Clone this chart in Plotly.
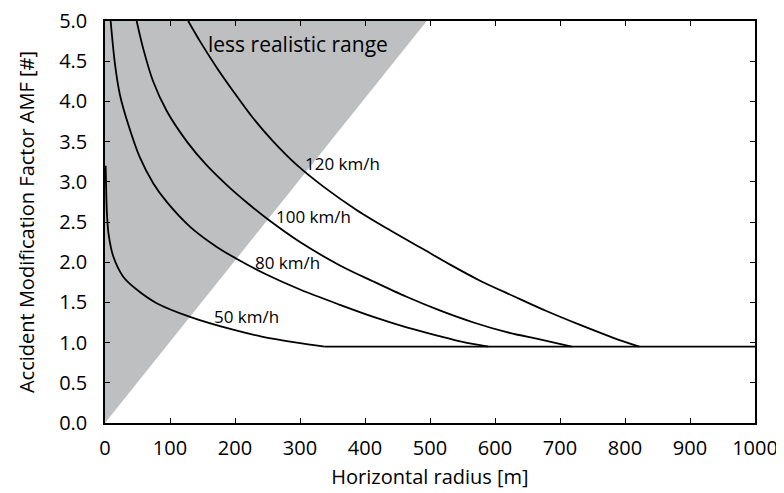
import plotly.graph_objects as go

# ---- data ----
radius_50 = [1.0, 1.8, 3.0, 5.5, 12.8, 28, 48.7, 79.5, 130.8, 197, 241, 295, 338]
amf_50 = [3.2, 2.9, 2.6, 2.35, 2.07, 1.82, 1.66, 1.49, 1.32, 1.16, 1.075, 1.00, 0.95]

radius_80 = [8.7, 15.4, 23, 35.9, 53.8, 74.4, 95, 131, 172, 203, 250, 300, 361.5, 413, 464, 515, 550, 590]
amf_80 = [5.0, 4.46, 4.08, 3.71, 3.30, 2.98, 2.75, 2.44, 2.19, 2.04, 1.84, 1.66, 1.47, 1.32, 1.19, 1.08, 1.01, 0.95]

radius_100 = [48.7, 59, 74, 95, 126, 156, 190, 220, 251, 300, 361.5, 413, 464, 515, 567, 618, 669, 718]
amf_100 = [5.0, 4.65, 4.25, 3.88, 3.50, 3.21, 2.94, 2.73, 2.53, 2.25, 1.96, 1.76, 1.57, 1.40, 1.25, 1.13, 1.04, 0.95]

radius_120 = [128, 146, 172, 197, 228, 259, 295, 336, 387, 438, 490, 531, 577, 628, 680, 731, 782, 822]
amf_120 = [5.0, 4.75, 4.42, 4.13, 3.79, 3.50, 3.21, 2.94, 2.65, 2.40, 2.16, 1.97, 1.77, 1.58, 1.39, 1.22, 1.06, 0.95]

floor_x = [338, 1000]
floor_y = [0.95, 0.95]

region_x = [0, 495, 0, 0]
region_y = [0, 5, 5, 0]

speed_labels = ["50 km/h", "80 km/h", "100 km/h", "120 km/h"]
label_x = [218, 280, 320, 365]
label_y = [1.33, 2.0, 2.57, 3.23]
region_label = "less realistic range"
region_label_x = 297
region_label_y = 4.71

x_ticks = list(range(0, 1001, 100))
y_ticks = [0, 0.5, 1.0, 1.5, 2.0, 2.5, 3.0, 3.5, 4.0, 4.5, 5.0]

FONT = "Open Sans"

fig = go.Figure()
fig.add_trace(go.Scatter(x=region_x, y=region_y, fill="toself", mode="none",
                         fillcolor="rgb(190,191,193)", hoverinfo="skip", showlegend=False))
for xs, ys in [(radius_50, amf_50), (radius_80, amf_80), (radius_100, amf_100),
               (radius_120, amf_120), (floor_x, floor_y)]:
    fig.add_trace(go.Scatter(x=xs, y=ys, mode="lines",
                             line=dict(color="black", width=1.8, shape="spline", smoothing=0.9),
                             showlegend=False))

for t, lx, ly in zip(speed_labels, label_x, label_y):
    fig.add_annotation(x=lx, y=ly, text=t, showarrow=False,
                       font=dict(family=FONT, size=17, color="black"))
fig.add_annotation(x=region_label_x, y=region_label_y, text=region_label, showarrow=False,
                   font=dict(family=FONT, size=21, color="black"))

axis_common = dict(showline=True, mirror="ticks", linecolor="black", linewidth=1.5,
                   ticks="inside", ticklen=5, tickcolor="black", tickwidth=1,
                   showgrid=False, zeroline=False, automargin=False,
                   ticklabeloverflow="allow",
                   tickfont=dict(family=FONT, size=20, color="black"))

fig.update_xaxes(range=[0, 1000], tickvals=x_ticks,
                 title=dict(text="Horizontal radius [m]", font=dict(family=FONT, size=20, color="black"), standoff=10),
                 ticklabelstandoff=6, **axis_common)
fig.update_yaxes(range=[0, 5], tickvals=y_ticks, tickformat=".1f",
                 title=dict(text="Accident Modification Factor AMF [#]", font=dict(family=FONT, size=20, color="black"), standoff=19),
                 ticklabelstandoff=12, **axis_common)

# page body has an 8px margin, so the figure is sized/offset to land the plot box where the reference has it
fig.update_layout(width=776, height=485, margin=dict(l=97, r=29, t=13, b=70),
                  plot_bgcolor="white", paper_bgcolor="white",
                  font=dict(family=FONT, color="black"))

fig.write_html("out.html")
